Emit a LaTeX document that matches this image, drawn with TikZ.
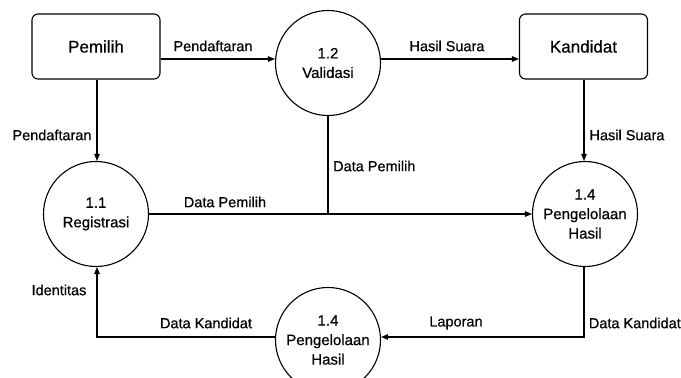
\documentclass[tikz,border=0pt]{standalone}
\usepackage{fontspec}
\setmainfont[FakeBold=0.6]{Liberation Sans}
\usetikzlibrary{arrows.meta}
\begin{document}
\begin{tikzpicture}[x=1pt,y=-1pt,
  ent/.style={draw, rounded corners=6pt, line width=1.1pt, minimum width=128pt, minimum height=65pt, inner sep=0pt, font=\fontsize{17}{20}\selectfont},
  proc/.style={draw, circle, line width=1.1pt, minimum size=105pt, inner sep=0pt, align=center, font=\fontsize{15}{19.5}\selectfont},
  flow/.style={line width=1.1pt, -{Triangle[length=7pt,width=5.5pt]}},
  link/.style={line width=1.1pt},
  lbl/.style={font=\fontsize{14.5}{17}\selectfont, inner sep=0pt}]
\useasboundingbox (0,0) rectangle (681,378);
\clip (0,0) rectangle (681,378);
\node[ent] (pemilih) at (96,46.5) {Pemilih};
\node[ent] (kandidat) at (583.5,46.5) {Kandidat};
\node[proc] (p12) at (328,63) {1.2\\Validasi};
\node[proc] (p11) at (96,214) {1.1\\Registrasi};
\node[proc] (p14) at (585,214) {1.4\\Pengelolaan\\Hasil};
\node[proc] (p14b) at (328,340) {1.4\\Pengelolaan\\Hasil};
\coordinate (j) at (328,214);
\coordinate (c1) at (584,337);
\coordinate (c2) at (97,337);
% flows
\draw[flow] (pemilih.east |- 0,59) -- (p12.west |- 0,59);
\draw[flow] (p12.east |- 0,59) -- (kandidat.west |- 0,59);
\draw[flow] (pemilih.south -| 97,0) -- (p11.north -| 97,0);
\draw[flow] (kandidat.south -| 584,0) -- (p14.north -| 584,0);
\draw[link] (p12.south) -- (j);
\draw[flow] (p11.east) -- (p14.west);
\draw[flow] (p14.south -| c1) -- (c1) -- (p14b.east |- c1);
\draw[flow] (p14b.west |- c2) -- (c2) -- (p11.south -| c2);
% labels
\node[lbl] (l1) at (213,46) {Pendaftaran};
\node[lbl] (l2) at (447,46) {Hasil Suara};
\node[lbl] (l3) at (52,135) {Pendaftaran};
\node[lbl] (l4) at (627,135) {Hasil Suara};
\node[lbl, anchor=west] (l5) at (333,166) {Data Pemilih};
\node[lbl] (l6) at (225,202) {Data Pemilih};
\node[lbl] (l7) at (59,290) {Identitas};
\node[lbl] (l8) at (206,323) {Data Kandidat};
\node[lbl] (l9) at (456,323) {Laporan};
\node[lbl, anchor=east] (l10) at (681,323) {Data Kandidat};
\end{tikzpicture}
\end{document}
